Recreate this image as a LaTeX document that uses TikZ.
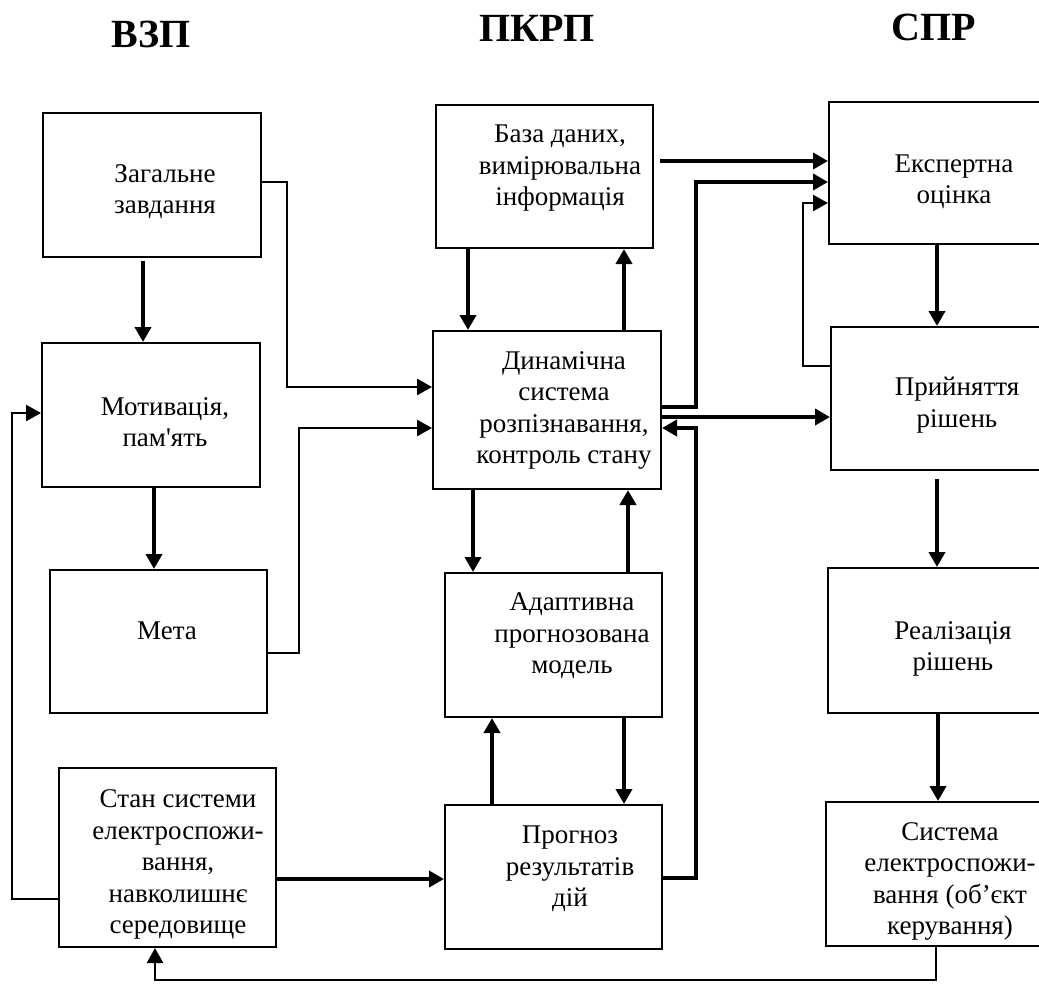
\documentclass[tikz,border=0pt]{standalone}
\usepackage{fontspec}
\newfontfamily\shrift{Liberation Serif}
\usetikzlibrary{arrows.meta}

\begin{document}
\begin{tikzpicture}[x=1pt, y=-1pt,
  blok/.style={draw, line width=2pt, inner sep=0pt},
  napys/.style={align=center, inner sep=0pt, font=\shrift\fontsize{27}{31.5}\selectfont},
  zagolovok/.style={anchor=base, inner sep=0pt, font=\shrift\bfseries\fontsize{40}{48}\selectfont},
  tovsta/.style={line width=4pt, -{Triangle[length=15pt, width=16pt]}},
  tonka/.style={line width=2.5pt, -{Triangle[length=15pt, width=16pt]}}]
  \useasboundingbox (0,0) rectangle (1039,983);
  \clip (0,0) rectangle (1039,983);

  % Column titles
  \node[zagolovok] (vzp) at (151,47) {ВЗП};
  \node[zagolovok] (pkrp) at (537,41) {ПКРП};
  \node[zagolovok] (spr) at (934,40) {СПР};

  % Left column
  \node[blok, minimum width=218pt, minimum height=144pt] (zag) at (152,185) {};
  \node[blok, minimum width=218pt, minimum height=144pt] (mot) at (151,415) {};
  \node[blok, minimum width=217pt, minimum height=143pt] (meta) at (158.5,641.5) {};
  \node[blok, minimum width=217pt, minimum height=179pt] (stan) at (167.5,857.5) {};
  \node[napys] (zag-t) at (165,191.5) {Загальне\\завдання};
  \node[napys] (mot-t) at (165,422) {Мотивація,\\пам'ять};
  \node[napys] (meta-t) at (167,631) {Мета};
  \node[napys] (stan-t) at (178,864.5) {Стан системи\\електроспожи-\\вання,\\навколишнє\\середовище};

  % Middle column
  \node[blok, minimum width=217pt, minimum height=143pt] (baza) at (544.5,176.5) {};
  \node[blok, minimum width=228pt, minimum height=158pt] (dyn) at (547,410) {};
  \node[blok, minimum width=217pt, minimum height=144pt] (adapt) at (553.5,645) {};
  \node[blok, minimum width=217pt, minimum height=144pt] (progn) at (553.5,877) {};
  \node[napys] (baza-t) at (560,168.5) {База даних,\\вимірювальна\\інформація};
  \node[napys] (dyn-t) at (564,410.5) {Динамічна\\система\\розпізнавання,\\контроль стану};
  \node[napys] (adapt-t) at (572,636) {Адаптивна\\прогнозована\\модель};
  \node[napys] (progn-t) at (570,869) {Прогноз\\результатів\\дій};

  % Right column
  \node[blok, minimum width=216pt, minimum height=142pt] (exp) at (937,173) {};
  \node[blok, minimum width=214pt, minimum height=143pt] (pryin) at (938,398.5) {};
  \node[blok, minimum width=217pt, minimum height=145pt] (real) at (936.5,640.5) {};
  \node[blok, minimum width=219pt, minimum height=144pt] (syst) at (935.5,874) {};
  \node[napys] (exp-t) at (954,182) {Експертна\\оцінка};
  \node[napys] (pryin-t) at (957,405) {Прийняття\\рішень};
  \node[napys] (real-t) at (953,649) {Реалізація\\рішень};
  \node[napys] (syst-t) at (950,881.5) {Система\\електроспожи-\\вання (об’єкт\\керування)};

  % Connections, left column
  \draw[tovsta, shorten <=3pt] (zag.south -| 143,0) -- (mot.north -| 143,0);
  \draw[tovsta] (mot.south -| 154,0) -- (meta.north -| 154,0);
  \draw[tonka] (zag.east |- 0,182) -- (287,182) |- (dyn.west |- 0,387);
  \draw[tonka] (meta.east |- 0,653) -- (299,653) |- (dyn.west |- 0,428);
  \draw[tonka] (stan.west |- 0,899) -- (12,899) |- (mot.west |- 0,413);
  \draw[tovsta] (stan.east |- 0,879) -- (progn.west |- 0,879);

  % Connections, middle column
  \draw[tovsta] (baza.south -| 468,0) -- (dyn.north -| 468,0);
  \draw[tovsta] (dyn.north -| 624,0) -- (baza.south -| 624,0);
  \draw[tovsta] (dyn.south -| 473,0) -- (adapt.north -| 473,0);
  \draw[tovsta] (adapt.north -| 628,0) -- (dyn.south -| 628,0);
  \draw[tovsta] (progn.north -| 492,0) -- (adapt.south -| 492,0);
  \draw[tovsta] (adapt.south -| 624,0) -- (progn.north -| 624,0);
  \draw[tovsta] (progn.east |- 0,878) -- (696,878) |- (dyn.east |- 0,428);

  % Connections to the right column
  \draw[tovsta, shorten <=6pt] (baza.east |- 0,161) -- (exp.west |- 0,161);
  \draw[tovsta] (dyn.east |- 0,407) -- (696,407) |- (exp.west |- 0,182);
  \draw[tonka] (pryin.west |- 0,366) -- (803,366) |- (exp.west |- 0,203);
  \draw[tovsta] (dyn.east |- 0,417) -- (pryin.west |- 0,417);

  % Right column
  \draw[tovsta] (exp.south -| 937,0) -- (pryin.north -| 937,0);
  \draw[tovsta, shorten <=8pt] (pryin.south -| 937,0) -- (real.north -| 937,0);
  \draw[tovsta] (real.south -| 938,0) -- (syst.north -| 938,0);
  \draw[tonka] (syst.south -| 936,0) -- (936,980) -| (stan.south -| 155,0);
\end{tikzpicture}
\end{document}
